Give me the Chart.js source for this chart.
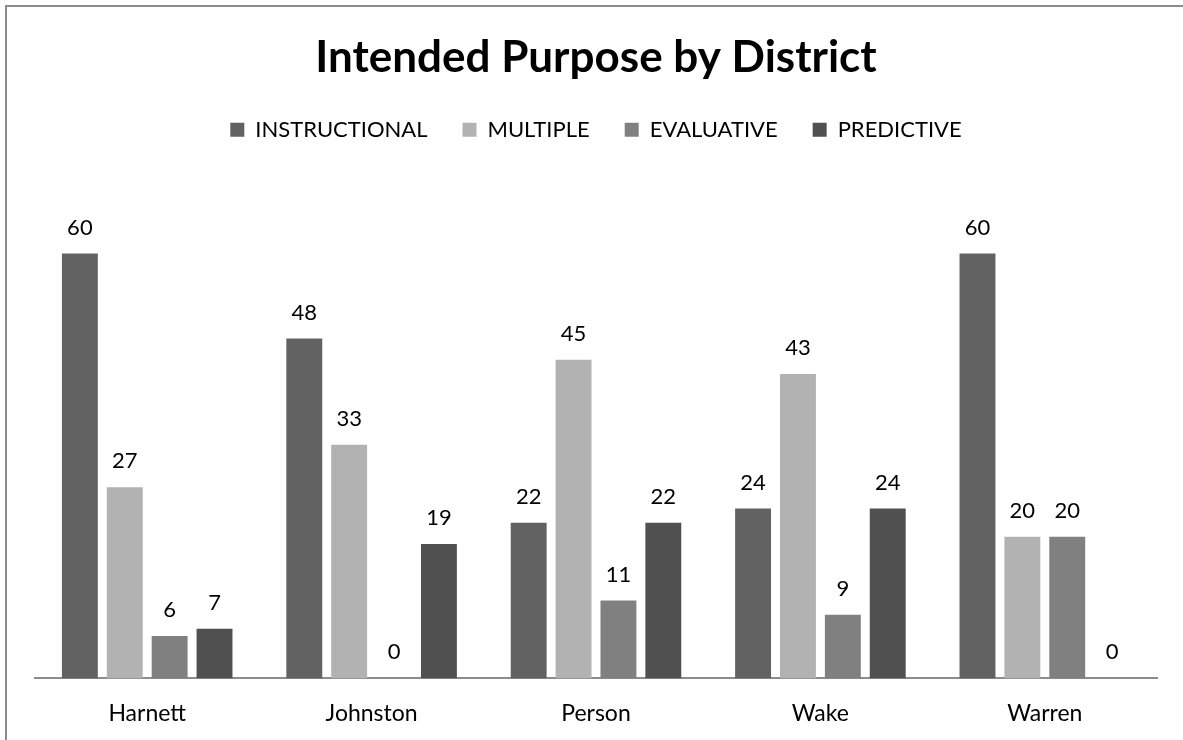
<!DOCTYPE html>
<html>
<head>
<meta charset="utf-8">
<script src="https://cdn.jsdelivr.net/npm/chart.js@4.4.0/dist/chart.umd.min.js"></script>
<style>
  html, body { margin: 0; padding: 0; background: #fff; overflow: hidden; }
  #wrap { position: relative; width: 1183px; height: 740px; overflow: hidden; }
  #frame {
    position: absolute; left: 5px; top: 5px; width: 1200px; height: 800px;
    border-left: 2px solid #8c8c8c; border-top: 2px solid #8c8c8c;
    pointer-events: none;
  }
</style>
</head>
<body>
<div id="wrap">
  <canvas id="purpose-chart" width="1183" height="748"></canvas>
  <div id="frame"></div>
</div>
<script>
const districts = ["Harnett", "Johnston", "Person", "Wake", "Warren"];
const instructional = [60, 48, 22, 24, 60];
const multiple = [27, 33, 45, 43, 20];
const evaluative = [6, 0, 11, 9, 20];
const predictive = [7, 19, 22, 24, 0];

const font = "Lato, 'Open Sans', sans-serif";

// writes each bar's value just above it
const valueLabels = {
  id: 'valueLabels',
  afterDatasetsDraw(chart) {
    const ctx = chart.ctx;
    ctx.save();
    ctx.font = "22px " + font;
    ctx.fillStyle = '#000';
    ctx.textAlign = 'center';
    ctx.textBaseline = 'middle';
    chart.data.datasets.forEach((ds, i) => {
      chart.getDatasetMeta(i).data.forEach((bar, j) => {
        ctx.fillText(ds.data[j], bar.x, bar.y - 26);
      });
    });
    ctx.restore();
  }
};

// extra room between the legend and the bars
const legendGap = {
  id: 'legendGap',
  beforeInit(chart) {
    const fit = chart.legend.fit;
    chart.legend.fit = function () {
      fit.bind(chart.legend)();
      this.height += 32;
    };
  }
};

const data = {
  labels: districts,
  datasets: [
    { label: 'INSTRUCTIONAL', data: instructional, backgroundColor: '#626262' },
    { label: 'MULTIPLE', data: multiple, backgroundColor: '#b2b2b2' },
    { label: 'EVALUATIVE', data: evaluative, backgroundColor: '#808080' },
    { label: 'PREDICTIVE', data: predictive, backgroundColor: '#505050' },
  ]
};

const config = {
  type: 'bar',
  data: data,
  plugins: [valueLabels, legendGap],
  options: {
    responsive: false,
    animation: false,
    layout: { padding: { left: 35, right: 26, top: 0, bottom: 0 } },
    datasets: {
      bar: { categoryPercentage: 0.8, barPercentage: 0.8 }
    },
    scales: {
      x: {
        grid: { display: false, drawTicks: false },
        border: { display: true, color: '#8c8c8c', width: 2 },
        ticks: { color: '#000', padding: 21, font: { family: font, size: 23 } }
      },
      y: {
        display: false,
        min: 0,
        max: 70
      }
    },
    plugins: {
      title: {
        display: true,
        text: 'Intended Purpose by District',
        color: '#000',
        font: { family: font, size: 44, weight: 'bold' },
        padding: { top: 31, bottom: 0 }
      },
      legend: {
        position: 'top',
        labels: {
          boxWidth: 14,
          boxHeight: 14,
          padding: 35,
          color: '#000',
          font: { family: font, size: 22 }
        }
      },
      tooltip: { enabled: false }
    }
  }
};

new Chart(document.getElementById('purpose-chart'), config);
</script>
</body>
</html>
